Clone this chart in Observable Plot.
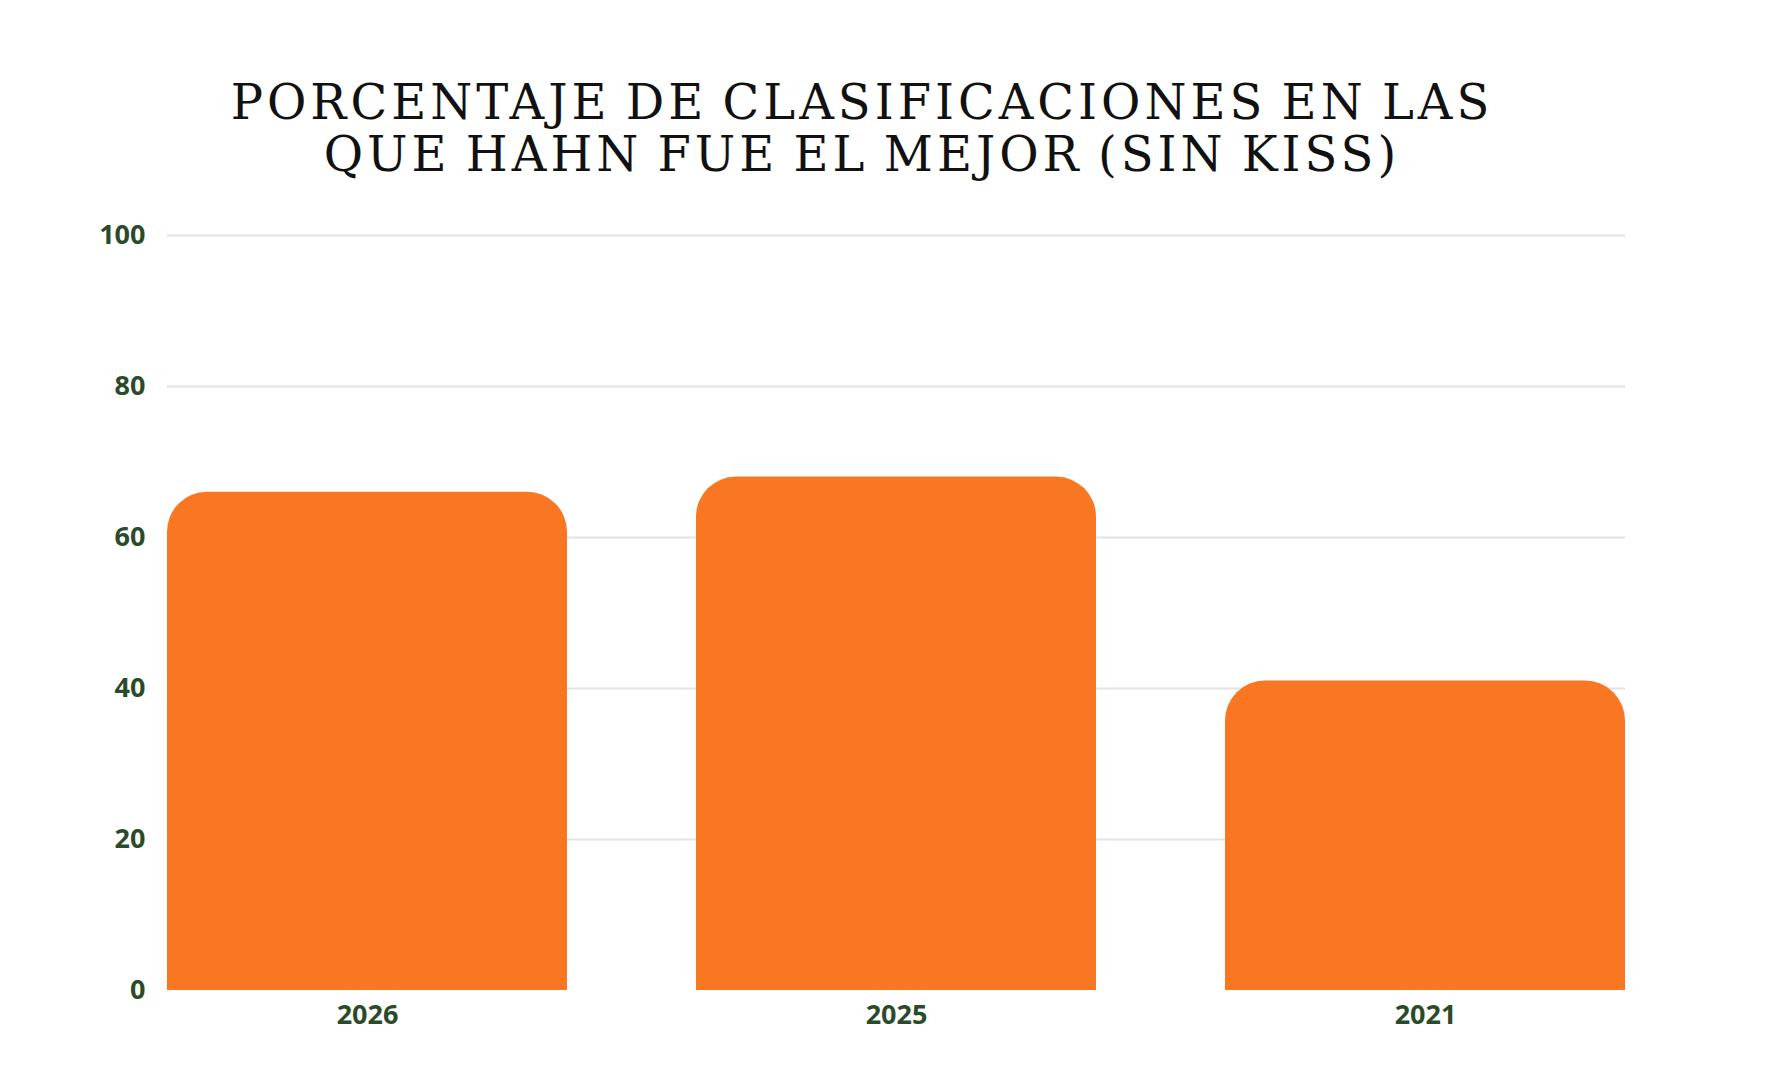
<!DOCTYPE html>
<html>
<head>
<meta charset="utf-8">
<script src="https://cdn.jsdelivr.net/npm/d3@7"></script>
<script src="https://cdn.jsdelivr.net/npm/@observablehq/plot@0.6"></script>
<style>
  html, body { margin: 0; padding: 0; background: #ffffff; }
  #title {
    width: 1724px;
    height: 200px;
    box-sizing: border-box;
    padding-top: 76px;
    text-align: center;
    font-family: "DejaVu Serif", serif;
    font-size: 48px;
    line-height: 52px;
    letter-spacing: 4px;
    word-spacing: -4px;
    color: #111111;
  }
  #chart svg { display: block; }
</style>
</head>
<body>
<div id="title">PORCENTAJE DE CLASIFICACIONES EN LAS<br>QUE HAHN FUE EL MEJOR (SIN KISS)</div>
<div id="chart"></div>
<script>
const years = ["2026", "2025", "2021"];
const values = [66, 68, 41];
const yTicks = [0, 20, 40, 60, 80, 100];

const data = years.map((year, i) => ({year, value: values[i]}));
const orange = "#F97623";
const green = "#2A4B2A";

const chart = Plot.plot({
  width: 1772,
  height: 850,
  marginTop: 35,
  marginBottom: 60,
  marginLeft: 167,
  marginRight: 147,
  style: {fontFamily: "'Open Sans', sans-serif", fontSize: "27px", fontWeight: 700, color: green, background: "white"},
  x: {domain: years, paddingInner: 0.244, paddingOuter: 0, label: null, tickSize: 0, tickPadding: 15},
  y: {domain: [0, 100], ticks: yTicks, label: null, tickSize: 0, tickPadding: 22},
  marks: [
    Plot.gridY(yTicks.filter(t => t > 0), {stroke: "#e3e3e3", strokeOpacity: 1, strokeWidth: 2}),
    Plot.barY(data, {x: "year", y: "value", fill: orange, rx: 40}),
    Plot.barY(data, {x: "year", y1: 0, y2: d => d.value / 2, fill: orange}),
    Plot.axisX({tickSize: 0, tickPadding: 14, fill: green, fontWeight: 700}),
    Plot.axisY({ticks: yTicks, tickSize: 0, tickPadding: 22, fill: green, fontWeight: 700})
  ]
});
document.getElementById("chart").appendChild(chart);
</script>
</body>
</html>
